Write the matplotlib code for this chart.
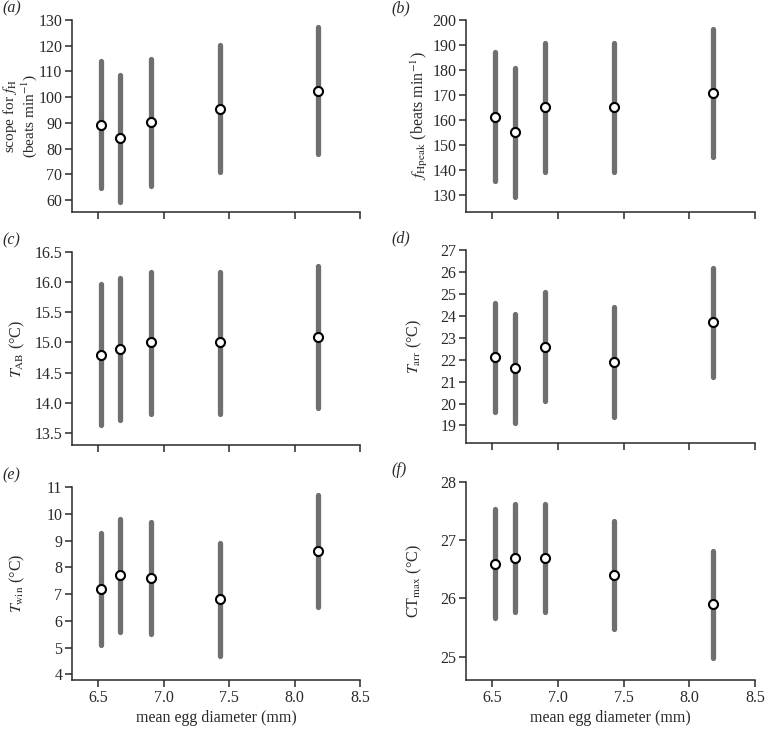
import numpy as np
import matplotlib
matplotlib.use("Agg")
import matplotlib.pyplot as plt

plt.rcParams['font.family'] = ['Liberation Serif', 'DejaVu Serif']
plt.rcParams['mathtext.fontset'] = 'stix'
plt.rcParams['font.size'] = 11.5

# mean egg diameter (mm) for the five populations
egg_diam = [6.52, 6.67, 6.90, 7.43, 8.18]

# (a) scope for fH
scope_mean = [89.3, 84.0, 90.3, 95.5, 102.5]
scope_lo = [64.5, 59.0, 65.5, 70.8, 77.8]
scope_hi = [114.0, 108.7, 115.0, 120.3, 127.3]

# (b) fHpeak
fpeak_mean = [161.3, 155.0, 165.0, 165.0, 170.8]
fpeak_lo = [135.5, 129.0, 139.0, 139.0, 145.0]
fpeak_hi = [187.0, 180.8, 190.8, 190.8, 196.5]

# (c) T_AB
tab_mean = [14.80, 14.90, 15.00, 15.00, 15.09]
tab_lo = [13.63, 13.72, 13.82, 13.82, 13.92]
tab_hi = [15.97, 16.07, 16.17, 16.17, 16.26]

# (d) T_arr
tarr_mean = [22.1, 21.6, 22.6, 21.9, 23.7]
tarr_lo = [19.6, 19.1, 20.1, 19.4, 21.2]
tarr_hi = [24.6, 24.1, 25.1, 24.4, 26.2]

# (e) T_win
twin_mean = [7.2, 7.7, 7.6, 6.8, 8.6]
twin_lo = [5.1, 5.6, 5.5, 4.7, 6.5]
twin_hi = [9.3, 9.8, 9.7, 8.9, 10.7]

# (f) CTmax
ctmax_mean = [26.6, 26.7, 26.7, 26.4, 25.9]
ctmax_lo = [25.67, 25.77, 25.77, 25.48, 24.98]
ctmax_hi = [27.53, 27.62, 27.62, 27.33, 26.82]

panels = [
    ('a', 'scope for $f_{\\mathrm{H}}$\n(beats min$^{-1}$)', scope_mean, scope_lo, scope_hi,
     (55.3, 130), np.arange(60, 131, 10), '{:.0f}'),
    ('b', '$f_{\\mathrm{Hpeak}}$ (beats min$^{-1}$)', fpeak_mean, fpeak_lo, fpeak_hi,
     (123.2, 200), np.arange(130, 201, 10), '{:.0f}'),
    ('c', '$T_{\\mathrm{AB}}$ (°C)', tab_mean, tab_lo, tab_hi,
     (13.3, 16.5), np.arange(13.5, 16.51, 0.5), '{:.1f}'),
    ('d', '$T_{\\mathrm{arr}}$ (°C)', tarr_mean, tarr_lo, tarr_hi,
     (18.2, 27), np.arange(19, 28, 1), '{:.0f}'),
    ('e', '$T_{\\mathrm{win}}$ (°C)', twin_mean, twin_lo, twin_hi,
     (3.79, 11), np.arange(4, 12, 1), '{:.0f}'),
    ('f', 'CT$_{\\mathrm{max}}$ (°C)', ctmax_mean, ctmax_lo, ctmax_hi,
     (24.6, 28), np.arange(25, 29, 1), '{:.0f}'),
]

W, H = 772, 730
# axes boxes in pixels: left, top, right, bottom
boxes = [
    (72, 20, 360, 212), (466, 20, 755, 212),
    (72, 252, 360, 445), (466, 250, 755, 443),
    (72, 487, 360, 680), (466, 482, 755, 680),
]
# right edge (pixels) of each y label
ylab_edge = [39, 430, 27, 424, 27, 424]
ylab_size = [11, 11.5, 11.5, 11.5, 11.5, 11.5]

fig = plt.figure(figsize=(W / 100, H / 100), dpi=100)
bar_col = '#6f6f6f'
txt_col = '#2a2a2a'

for i, (tag, ylab, mean, lo, hi, ylim, yticks, fmt) in enumerate(panels):
    l, t, r, b = boxes[i]
    ax = fig.add_axes([l / W, 1 - b / H, (r - l) / W, (b - t) / H])

    ax.vlines(egg_diam, lo, hi, color=bar_col, lw=3.8, capstyle='round', zorder=2)
    ax.plot(egg_diam, mean, 'o', ms=6.5, mfc='white', mec='black', mew=1.5, zorder=3)

    ax.set_xlim(6.3, 8.5)
    ax.set_ylim(*ylim)
    ax.set_xticks([6.5, 7.0, 7.5, 8.0, 8.5])
    ax.set_yticks(yticks)
    ax.set_yticklabels([fmt.format(v) for v in yticks])

    for side in ['top', 'right']:
        ax.spines[side].set_visible(False)
    for side in ['left', 'bottom']:
        ax.spines[side].set_linewidth(1.1)
        ax.spines[side].set_color(txt_col)
    ax.tick_params(direction='out', length=5, width=1.1, colors=txt_col,
                   labelcolor=txt_col, labelsize=11.5, pad=2)

    if i >= 4:
        ax.set_xticklabels(['6.5', '7.0', '7.5', '8.0', '8.5'])
        ax.set_xlabel('mean egg diameter (mm)', color=txt_col, fontsize=11.5, labelpad=3)
    else:
        ax.set_xticklabels([])

    ax.set_ylabel(ylab, color=txt_col, fontsize=ylab_size[i], linespacing=1.05)
    ax.yaxis.set_label_coords((ylab_edge[i] - l) / (r - l), 0.5)

    ax.text(l / W - (70 / W if i % 2 == 0 else 75 / W), 1 - (t - 12) / H, '(' + tag + ')',
            transform=fig.transFigure, fontsize=11.5, style='italic', color=txt_col,
            va='center', ha='left')

fig.savefig('out.png', dpi=100)
